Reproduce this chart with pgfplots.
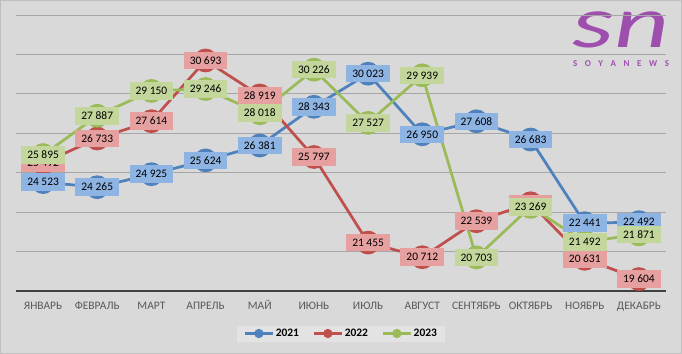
\documentclass[border=0pt]{standalone}
\usepackage{pgfplots}
\pgfplotsset{compat=1.18}
\usepackage{fontspec}
\setmainfont{Carlito}
\definecolor{bgc}{HTML}{D9D9D9}
\definecolor{bordc}{HTML}{BFBFBF}
\definecolor{gridc}{HTML}{A6A6A6}
\definecolor{axisc}{HTML}{404040}
\definecolor{tickc}{HTML}{595959}
\definecolor{legbg}{HTML}{E3E3E3}
\definecolor{bline}{HTML}{4F81BD}
\definecolor{rline}{HTML}{C0504D}
\definecolor{gline}{HTML}{9BBB59}
\definecolor{bbox}{HTML}{8EB4E3}
\definecolor{rbox}{HTML}{E6A0A0}
\definecolor{gbox}{HTML}{C3D69B}
\definecolor{logoc}{HTML}{9E4FAE}
\pgfplotsset{
  lbl/.style={draw=none, mark=none, forget plot,
    nodes near coords={\pgfmathprintnumber[fixed, precision=0, 1000 sep={\ }, assume math mode=true]{\pgfplotspointmeta}},
    every node near coord/.append style={anchor=center, fill=#1, text=black,
      font=\fontsize{11.5}{13}\selectfont, inner xsep=6bp, inner ysep=5bp,
      text height=7.5bp, text depth=0bp}},
  ser/.style={color=#1, line width=2.75bp, mark=*, mark size=10.5bp, mark options={solid, fill=#1, draw=#1}}
}
\begin{document}
\begin{tikzpicture}
\useasboundingbox (0,0) rectangle (682bp,354bp);
\fill[bgc] (0,0) rectangle (682bp,354bp);
\draw[bordc, line width=1bp] (0.5bp,0.5bp) rectangle (681.5bp,353.5bp);
\node[logoc, font=\fontsize{74}{74}\selectfont\itshape, xscale=1.45, inner sep=0pt, anchor=base, text height=35bp, text depth=0bp] at (621bp,306bp) {sn};
\node[logoc, font=\fontsize{9}{10}\selectfont\bfseries, inner sep=0pt] at (621bp,290bp) {\makebox[96bp][s]{S\hfill O\hfill Y\hfill A\hfill N\hfill E\hfill W\hfill S}};
\begin{axis}[
  at={(16bp,63bp)}, anchor=south west,
  scale only axis, width=650bp, height=276bp,
  xmin=-0.5, xmax=11.5, ymin=19000, ymax=33000,
  clip=false,
  axis line style={draw=none},
  xtick={0,...,11},
  xticklabels={ЯНВАРЬ,ФЕВРАЛЬ,МАРТ,АПРЕЛЬ,МАЙ,ИЮНЬ,ИЮЛЬ,АВГУСТ,СЕНТЯБРЬ,ОКТЯБРЬ,НОЯБРЬ,ДЕКАБРЬ},
  xticklabel style={anchor=base, yshift=-19bp, text=tickc, font=\fontsize{11.5}{13}\selectfont},
  ytick={21000,23000,...,33000},
  yticklabels={},
  scaled y ticks=false,
  extra y ticks={19000},
  extra y tick labels={},
  extra y tick style={grid style={draw=axisc, line width=2.5bp}},
  ymajorgrids,
  grid style={draw=gridc, line width=0.8bp},
  major tick length=0pt,
  tick style={draw=none},
  legend columns=3,
  legend style={at={(0.5,-0.154)}, anchor=center, fill=legbg, draw=none,
    font=\fontsize{11.5}{13}\selectfont\bfseries, inner xsep=7bp, inner ysep=2bp,
    /tikz/every even column/.append style={column sep=12bp},
    nodes={inner sep=1.5bp}},
  legend image code/.code={\draw[mark repeat=2, mark phase=2, #1, mark size=3.2bp, line width=2.75bp] plot coordinates {(0bp,0bp) (14bp,0bp) (28bp,0bp)};},
]
\addplot[ser=bline] coordinates {(0,24523) (1,24265) (2,24925) (3,25624) (4,26381) (5,28343) (6,30023) (7,26950) (8,27608) (9,26683) (10,22441) (11,22492)};
\addplot[ser=rline] coordinates {(0,25492) (1,26733) (2,27614) (3,30693) (4,28919) (5,25797) (6,21455) (7,20712) (8,22539) (9,23450) (10,20631) (11,19604)};
\addplot[ser=gline] coordinates {(0,25895) (1,27887) (2,29150) (3,29246) (4,28018) (5,30226) (6,27527) (7,29939) (8,20703) (9,23269) (10,21492) (11,21871)};
\legend{2021,2022,2023}
\addplot[lbl=bbox] coordinates {(0,24523) (1,24265) (2,24925) (3,25624) (4,26381) (5,28343) (6,30023) (7,26950) (8,27608) (9,26683) (10,22441) (11,22492)};
\addplot[lbl=rbox] coordinates {(0,25492) (1,26733) (2,27614) (3,30693) (4,28919) (5,25797) (6,21455) (7,20712) (8,22539) (9,23450) (10,20631) (11,19604)};
\addplot[lbl=gbox] coordinates {(0,25895) (1,27887) (2,29150) (3,29246) (4,28018) (5,30226) (6,27527) (7,29939) (8,20703) (9,23269) (10,21492) (11,21871)};
\end{axis}
\end{tikzpicture}
\end{document}
